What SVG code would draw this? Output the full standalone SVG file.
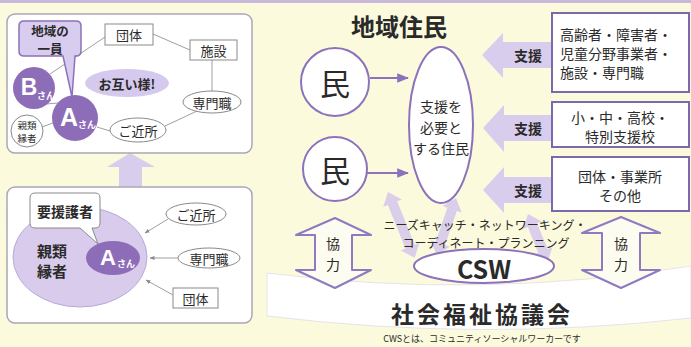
<svg xmlns="http://www.w3.org/2000/svg" width="691" height="347" viewBox="0 0 691 347">
<defs>
<style>
text{font-family:"Noto Sans CJK JP","Noto Sans",sans-serif;text-anchor:middle;dominant-baseline:central;fill:#2a2a2a}
.panel{fill:#ffffff;stroke:#aaa6b8;stroke-width:1.5}
.box{fill:#ffffff;stroke:#8a8a8a;stroke-width:1}
.ov{fill:#ffffff;stroke:#8a8a8a;stroke-width:1}
.ln{stroke:#a0a0a0;stroke-width:1;fill:none}
.pbox{fill:#ffffff;stroke:#7c69ab;stroke-width:2}
.lav{fill:#d9cdee}
.cross{fill:#d4c6ec;opacity:0.85}
.coop{fill:#fdfcf0;stroke:#8f7ac2;stroke-width:2;stroke-linejoin:round}
.pc{fill:#ffffff;stroke:#8b72bb;stroke-width:2}
.dark{fill:#8e6db8}
.w{fill:#ffffff;font-family:"Liberation Sans",sans-serif;font-weight:bold}
.ws{fill:#ffffff;font-size:9px;font-weight:bold}
.t13{font-size:13px}
.t14{font-size:14px}
.st{text-anchor:start}
</style>
<marker id="ah" viewBox="0 0 10 10" refX="9" refY="5" markerWidth="6" markerHeight="6" orient="auto"><path d="M0,1 L10,5 L0,9 z" fill="#8b72bb"/></marker>
<marker id="ag" viewBox="0 0 10 10" refX="9" refY="5" markerWidth="5" markerHeight="5" orient="auto"><path d="M0,1 L10,5 L0,9 z" fill="#8a8a8a"/></marker>
</defs>
<rect x="0" y="0" width="691" height="347" fill="#fcfadc"/>
<rect x="0" y="0" width="691" height="3" fill="#c9b8dc"/>

<!-- Up arrow between panels -->
<polygon class="lav" points="107,167 130,153 155,167 142,167 142,188 119,188 119,167"/>

<!-- Top-left panel -->
<g id="panel-top">
<rect class="panel" x="7" y="14" width="245" height="139" rx="8"/>
</g>
<g id="connectors-top">
<line class="ln" x1="105" y1="37" x2="50" y2="74"/>
<line class="ln" x1="153" y1="34" x2="190" y2="50"/>
<line class="ln" x1="212" y1="60" x2="212" y2="91"/>
<line class="ln" x1="197" y1="111" x2="165" y2="126"/>
<line class="ln" x1="110" y1="131" x2="97" y2="127"/>
<line class="ln" x1="53" y1="123" x2="42" y2="127"/>
<line class="ln" x1="46" y1="104" x2="58" y2="103"/>
</g>
<g id="node-dantai1"><rect class="box" x="105" y="24" width="48" height="21"/><text class="t13" x="129" y="34.5">団体</text></g>
<g id="node-shisetsu1"><rect class="box" x="190" y="40" width="47" height="20"/><text class="t13" x="213.5" y="50">施設</text></g>
<g id="node-otagai"><ellipse cx="127" cy="83" rx="42" ry="14" fill="#d6c9ee"/><text class="t13" x="127" y="83" font-weight="bold">お互い様!</text></g>
<g id="node-senmon1"><ellipse class="ov" cx="212" cy="102" rx="29" ry="11"/><text class="t13" x="212" y="102">専門職</text></g>
<g id="node-kinjo1"><ellipse class="ov" cx="138" cy="130" rx="28" ry="12"/><text class="t13" x="138" y="130">ご近所</text></g>
<g id="node-shinrui1"><circle class="ov" cx="27" cy="131" r="16"/><text x="27" y="124.5" font-size="9.5"><tspan x="27" y="124.5">親類</tspan><tspan x="27" y="138">縁者</tspan></text></g>
<g id="node-b"><circle class="dark" cx="34" cy="88" r="21"/><text class="w" x="29" y="87" font-size="23">B</text><text class="ws" x="46" y="95">さん</text></g>
<g id="node-a1"><circle class="dark" cx="75" cy="118" r="23"/><text class="w" x="69" y="117" font-size="25">A</text><text class="ws" x="87" y="124">さん</text></g>
<g id="node-ichiin"><path d="M24,21 H76 Q81,21 81,26 V51 Q81,56 76,56 H75 L72,97 L63,56 H24 Q19,56 19,51 V26 Q19,21 24,21 Z" fill="#d9cdef" stroke="#8c72b8" stroke-width="1.5"/><text font-size="12.5" font-weight="bold"><tspan x="50" y="29.5">地域の</tspan><tspan x="50" y="47.5">一員</tspan></text></g>

<!-- Bottom-left panel -->
<g id="panel-bottom">
<rect class="panel" x="7" y="187" width="245" height="136" rx="8"/>
</g>
<g id="node-shinrui2"><ellipse cx="80" cy="257" rx="67" ry="50" fill="#d8cbec" stroke="#b9a9d8" stroke-width="1"/><text font-size="15" font-weight="bold"><tspan x="52" y="250">親類</tspan><tspan x="52" y="270">縁者</tspan></text></g>
<g id="node-a2"><ellipse class="dark" cx="113" cy="258" rx="27" ry="17"/><text class="w" x="108" y="257" font-size="22">A</text><text class="ws" x="126" y="263">さん</text></g>
<g id="node-yoengo"><path d="M35,193 H95 Q100,193 100,198 V223 Q100,228 95,228 H92 L98,244 L80,228 H35 Q30,228 30,223 V198 Q30,193 35,193 Z" fill="#ffffff" stroke="#8a8a8a" stroke-width="1"/><text x="65" y="210.5" font-size="14" font-weight="bold">要援護者</text></g>
<g id="node-kinjo2"><ellipse class="ov" cx="196" cy="214" rx="30" ry="11"/><text class="t13" x="196" y="214">ご近所</text></g>
<g id="node-senmon2"><ellipse class="ov" cx="209" cy="258" rx="31" ry="10"/><text class="t13" x="209" y="258">専門職</text></g>
<g id="node-dantai2"><rect class="box" x="173" y="288" width="45" height="20"/><text class="t13" x="195.5" y="298">団体</text></g>
<g id="connectors-bottom">
<line class="ln" x1="168" y1="219" x2="145" y2="233" marker-end="url(#ag)"/>
<line class="ln" x1="178" y1="258" x2="150" y2="258" marker-end="url(#ag)"/>
<line class="ln" x1="173" y1="295" x2="146" y2="280" marker-end="url(#ag)"/>
</g>

<!-- Right side -->
<text x="399" y="25" font-size="24" font-weight="bold">地域住民</text>

<!-- crossing lavender arrows -->
<g id="cross-arrows">
<polygon class="cross" transform="translate(388,192) rotate(68)" points="0,0 12,-10 12,-5 59,-5 59,-10 71,0 59,10 59,5 12,5 12,10"/>
<polygon class="cross" transform="translate(456,198) rotate(109)" points="0,0 12,-10 12,-5 48,-5 48,-10 60,0 48,10 48,5 12,5 12,10"/>
<polygon class="cross" transform="translate(528,214) rotate(68)" points="0,0 12,-10 12,-5 40,-5 40,-10 52,0 40,10 40,5 12,5 12,10"/>
</g>

<g id="node-band"><path d="M267,273 Q480,300 691,266 L691,318 Q480,342 267,316 Z" fill="#ffffff" stroke="#e6e3ea" stroke-width="1"/><text x="482" y="313" font-size="23" font-weight="bold" letter-spacing="3">社会福祉協議会</text></g>
<text x="482" y="338" font-size="9">CWSとは、コミュニティソーシャルワーカーです</text>

<g id="node-coop-left"><polygon class="coop" points="335,218 371,235 352,235 352,270 371,270 335,288 296,270 315,270 315,235 296,235"/><text class="t14"><tspan x="333" y="243">協</tspan><tspan x="333" y="264">力</tspan></text></g>
<g id="node-coop-right"><polygon class="coop" points="621,217 660,233 640,233 640,270 660,270 621,288 582,270 602,270 602,233 582,233"/><text class="t14"><tspan x="621" y="243">協</tspan><tspan x="621" y="264">力</tspan></text></g>

<g id="node-csw"><ellipse cx="484" cy="266" rx="70" ry="17" fill="#ffffff" stroke="#8b72bb" stroke-width="2"/><text x="484" y="268" font-size="25" font-weight="bold" font-family="Liberation Sans, sans-serif">CSW</text></g>

<text font-size="12"><tspan x="485" y="224">ニーズキャッチ・ネットワーキング・</tspan><tspan x="486" y="242">コーディネート・プランニング</tspan></text>

<g id="node-min1"><circle class="pc" cx="335" cy="82" r="34"/><text x="335" y="82" font-size="30">民</text></g>
<g id="node-min2"><circle class="pc" cx="335" cy="169" r="32"/><text x="335" y="169" font-size="30">民</text></g>
<g id="node-shien-hitsuyo"><ellipse class="pc" cx="441" cy="125" rx="32" ry="78"/><text font-size="14"><tspan x="441" y="106">支援を</tspan><tspan x="441" y="127">必要と</tspan><tspan x="441" y="148">する住民</tspan></text></g>
<g id="connectors-right">
<line x1="370" y1="78" x2="408" y2="78" stroke="#8b72bb" stroke-width="2" marker-end="url(#ah)"/>
<line x1="367" y1="173" x2="408" y2="173" stroke="#8b72bb" stroke-width="2" marker-end="url(#ah)"/>
</g>

<g id="shien-arrows">
<polygon class="lav" points="482,55 503,33 503,42 552,42 552,68 503,68 503,78"/>
<text x="528" y="55" font-size="14" font-weight="bold">支援</text>
<polygon class="lav" points="483,128 504,105 504,115 552,115 552,141 504,141 504,152"/>
<text x="528" y="128" font-size="14" font-weight="bold">支援</text>
<polygon class="lav" points="483,190 504,167 504,177 552,177 552,203 504,203 504,213"/>
<text x="528" y="190" font-size="14" font-weight="bold">支援</text>
</g>

<g id="node-box1"><rect class="pbox" x="552" y="13" width="137" height="79"/><text class="st" font-size="14"><tspan x="560" y="34">高齢者・障害者・</tspan><tspan x="560" y="53">児童分野事業者・</tspan><tspan x="560" y="72">施設・専門職</tspan></text></g>
<g id="node-box2"><rect class="pbox" x="552" y="102" width="137" height="45"/><text font-size="14"><tspan x="620" y="117">小・中・高校・</tspan><tspan x="620" y="136">特別支援校</tspan></text></g>
<g id="node-box3"><rect class="pbox" x="552" y="157" width="137" height="54"/><text font-size="14"><tspan x="620" y="176">団体・事業所</tspan><tspan x="620" y="195">その他</tspan></text></g>
</svg>
